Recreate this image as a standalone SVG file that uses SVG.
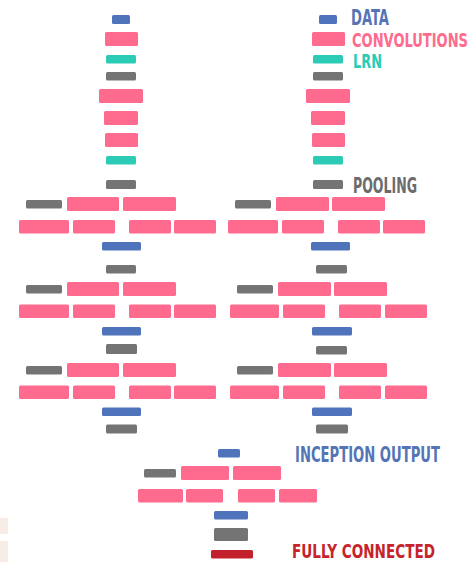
<svg xmlns="http://www.w3.org/2000/svg" width="470" height="562" viewBox="0 0 470 562">
<style>
rect{rx:1.5;ry:1.5}
.d{fill:#4f74bb}
.c{fill:#fe6b8e}
.l{fill:#2ccbb5}
.p{fill:#747474}
.f{fill:#c1202c}
.bg{fill:#f8ece6;rx:0;ry:0}
text{font-family:"Liberation Sans Narrow","DejaVu Sans Condensed","Liberation Sans",sans-serif;font-weight:bold;font-size:21px}
.td{fill:#5574b6}
.tc{fill:#fe6b8e}
.tl{fill:#2ccbb5}
.tp{fill:#6c6c6c}
.tf{fill:#c6232b}
</style>
<rect class="bg" x="0" y="518" width="8" height="16"/>
<rect class="bg" x="0" y="541" width="8" height="21"/>
<g id="connectors"/>
<g id="stem-left">
<rect class="d" x="112" y="15" width="18" height="9"/>
<rect class="c" x="105" y="32" width="33" height="14"/>
<rect class="l" x="106" y="55" width="30" height="8.5"/>
<rect class="p" x="106" y="72" width="30" height="8.5"/>
<rect class="c" x="99" y="89" width="44" height="14"/>
<rect class="c" x="104" y="111" width="34" height="14"/>
<rect class="c" x="105" y="133" width="33" height="14"/>
<rect class="l" x="106" y="156" width="30" height="8.5"/>
<rect class="p" x="106" y="180" width="30" height="9"/>
</g>
<g id="stem-right">
<rect class="d" x="319" y="15" width="18" height="9"/>
<rect class="c" x="312" y="32" width="33" height="14"/>
<rect class="l" x="313" y="55" width="30" height="8.5"/>
<rect class="p" x="313" y="72" width="30" height="8.5"/>
<rect class="c" x="306" y="89" width="44" height="14"/>
<rect class="c" x="311" y="111" width="34" height="14"/>
<rect class="c" x="312" y="133" width="33" height="14"/>
<rect class="l" x="313" y="156" width="30" height="8.5"/>
<rect class="p" x="313" y="180" width="30" height="9"/>
</g>
<g id="inception-left-1">
<rect class="p" x="26" y="200" width="36" height="8.5"/>
<rect class="c" x="67" y="197" width="52" height="14"/>
<rect class="c" x="123" y="197" width="53" height="14"/>
<rect class="c" x="19" y="220" width="50" height="13.5"/>
<rect class="c" x="73" y="220" width="42" height="13.5"/>
<rect class="c" x="129" y="220" width="42" height="13.5"/>
<rect class="c" x="174" y="220" width="42" height="13.5"/>
<rect class="d" x="102" y="242" width="39" height="8.5"/>
<rect class="p" x="106" y="265" width="30" height="8.5"/>
</g>
<g id="inception-left-2">
<rect class="p" x="26" y="285" width="36" height="8.5"/>
<rect class="c" x="67" y="282" width="52" height="14"/>
<rect class="c" x="123" y="282" width="53" height="14"/>
<rect class="c" x="19" y="304.5" width="50" height="13.5"/>
<rect class="c" x="73" y="304.5" width="42" height="13.5"/>
<rect class="c" x="129" y="304.5" width="42" height="13.5"/>
<rect class="c" x="174" y="304.5" width="42" height="13.5"/>
<rect class="d" x="102" y="327" width="39" height="8.5"/>
<rect class="p" x="106" y="344" width="31" height="10"/>
</g>
<g id="inception-left-3">
<rect class="p" x="26" y="366" width="36" height="8.5"/>
<rect class="c" x="67" y="363" width="52" height="14"/>
<rect class="c" x="123" y="363" width="53" height="14"/>
<rect class="c" x="19" y="385.5" width="50" height="13.5"/>
<rect class="c" x="73" y="385.5" width="42" height="13.5"/>
<rect class="c" x="129" y="385.5" width="42" height="13.5"/>
<rect class="c" x="174" y="385.5" width="42" height="13.5"/>
<rect class="d" x="102" y="407.5" width="39" height="8.5"/>
<rect class="p" x="106" y="424.5" width="31" height="9"/>
</g>
<g id="inception-right-1">
<rect class="p" x="235" y="200" width="36" height="8.5"/>
<rect class="c" x="276" y="197" width="53" height="14"/>
<rect class="c" x="332" y="197" width="53" height="14"/>
<rect class="c" x="228" y="220" width="50" height="13.5"/>
<rect class="c" x="282" y="220" width="42" height="13.5"/>
<rect class="c" x="338" y="220" width="42" height="13.5"/>
<rect class="c" x="383" y="220" width="42" height="13.5"/>
<rect class="d" x="311" y="242" width="39" height="8.5"/>
<rect class="p" x="316" y="265" width="31" height="8.5"/>
</g>
<g id="inception-right-2">
<rect class="p" x="237" y="285" width="36" height="8.5"/>
<rect class="c" x="278" y="282" width="53" height="14"/>
<rect class="c" x="334" y="282" width="53" height="14"/>
<rect class="c" x="230" y="304.5" width="49" height="13.5"/>
<rect class="c" x="283" y="304.5" width="42" height="13.5"/>
<rect class="c" x="339" y="304.5" width="42" height="13.5"/>
<rect class="c" x="385" y="304.5" width="42" height="13.5"/>
<rect class="d" x="312" y="327" width="40" height="8.5"/>
<rect class="p" x="316" y="346" width="31" height="8.5"/>
</g>
<g id="inception-right-3">
<rect class="p" x="237" y="366" width="36" height="8.5"/>
<rect class="c" x="278" y="363" width="53" height="14"/>
<rect class="c" x="334" y="363" width="53" height="14"/>
<rect class="c" x="230" y="385.5" width="49" height="13.5"/>
<rect class="c" x="283" y="385.5" width="42" height="13.5"/>
<rect class="c" x="339" y="385.5" width="42" height="13.5"/>
<rect class="c" x="385" y="385.5" width="42" height="13.5"/>
<rect class="d" x="312" y="407.5" width="40" height="8.5"/>
<rect class="p" x="316" y="424.5" width="32" height="9"/>
</g>
<g id="inception-output">
<rect class="d" x="218" y="449" width="22" height="8.5"/>
<rect class="p" x="144" y="469" width="32" height="8.5"/>
<rect class="c" x="181" y="466" width="48" height="14"/>
<rect class="c" x="233" y="466" width="48" height="14"/>
<rect class="c" x="138" y="489" width="45" height="13.5"/>
<rect class="c" x="186" y="489" width="37" height="13.5"/>
<rect class="c" x="238" y="489" width="37" height="13.5"/>
<rect class="c" x="279" y="489" width="38" height="13.5"/>
<rect class="d" x="214" y="511" width="34" height="8.5"/>
<rect class="p" x="214" y="528" width="34" height="13"/>
</g>
<g id="fully-connected">
<rect class="f" x="211" y="550" width="42" height="8.5"/>
</g>
<g id="legend">
<text class="td" transform="translate(351,25) scale(0.68,1)" textLength="55.9" lengthAdjust="spacingAndGlyphs" style="font-size:20.5px">DATA</text>
<text class="tc" transform="translate(352,46.5) scale(0.72,1)" textLength="161.1" lengthAdjust="spacingAndGlyphs" style="font-size:18.8px">CONVOLUTIONS</text>
<text class="tl" transform="translate(353,68) scale(0.68,1)" textLength="42.6" lengthAdjust="spacingAndGlyphs" style="font-size:18.8px">LRN</text>
<text class="tp" transform="translate(353,193) scale(0.66,1)" textLength="97" lengthAdjust="spacingAndGlyphs">POOLING</text>
<text class="td" transform="translate(295,462) scale(0.7,1)" textLength="207.1" lengthAdjust="spacingAndGlyphs">INCEPTION OUTPUT</text>
<text class="tf" transform="translate(292,557.5) scale(0.71,1)" textLength="201.4" lengthAdjust="spacingAndGlyphs" style="font-size:19px">FULLY CONNECTED</text>
</g>
</svg>
